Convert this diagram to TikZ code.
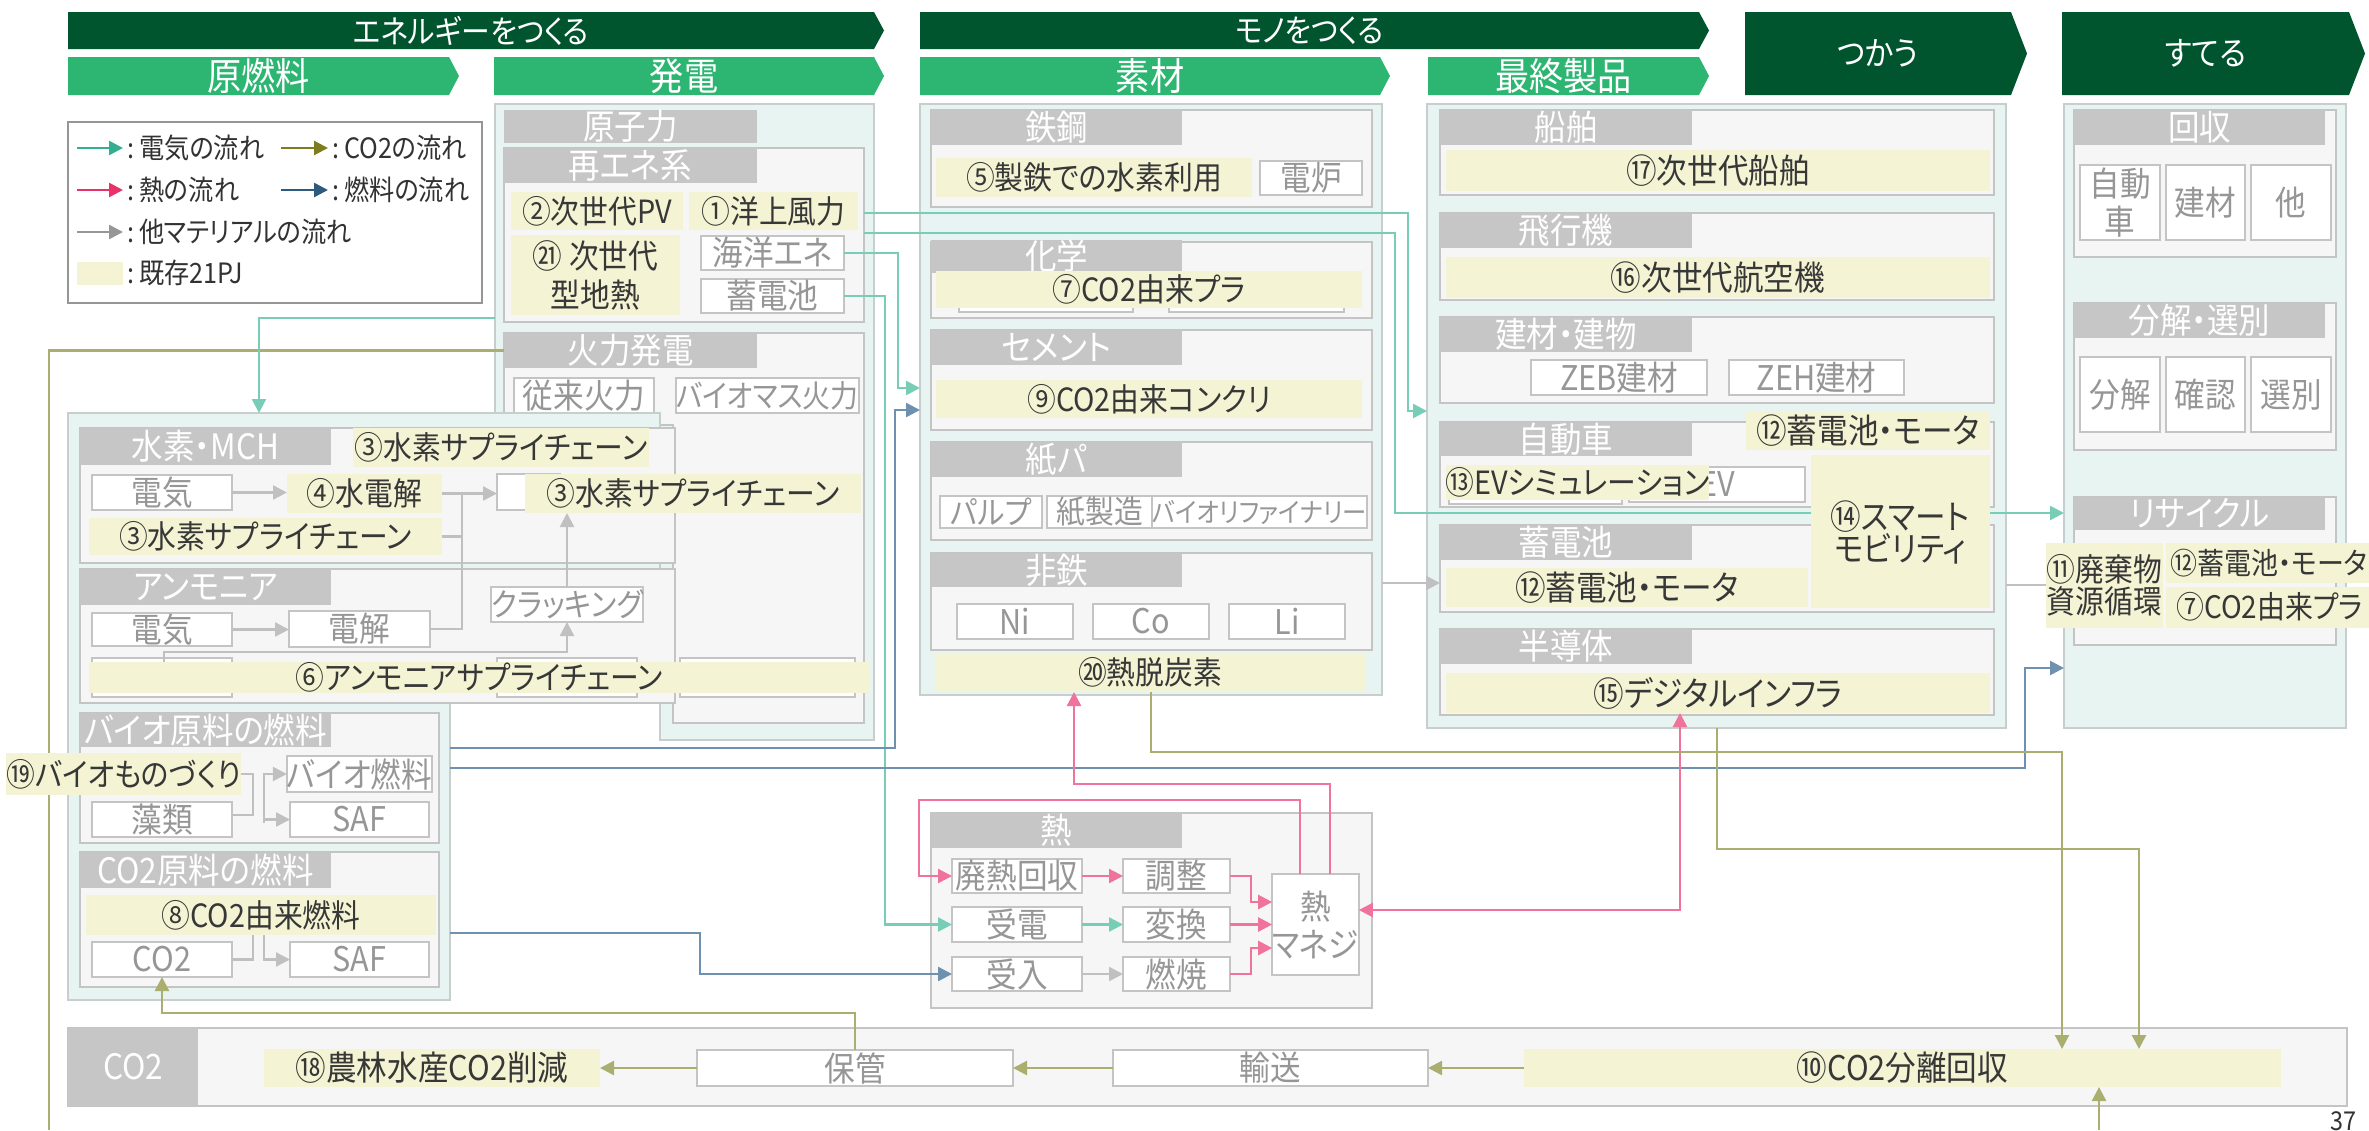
\documentclass[tikz,border=0pt]{standalone}
\usepackage{fontspec}
\setmainfont{Noto Sans CJK JP}[RawFeature=+palt,FakeStretch=0.9]
\usetikzlibrary{arrows.meta}
\newcommand\fsz[1]{\fontsize{#1}{#1}\selectfont}
\newcommand\bx[7]{\node[#6,minimum width={(#4-#2)*0.5pt},minimum height={(#5-#3)*0.5pt}] (#1) at ({(#2+#4)/2},{(#3+#5)/2}) {#7};}
\newcommand\chev[9]{\fill[#7] (#2,#3) -- ({#4-#6},#3) -- (#4,{(#3+#5)/2}) -- ({#4-#6},#5) -- (#2,#5) -- cycle;
 \node[text=white,font=\fsz{#8},inner sep=0pt] (#1) at ({(#2+#4-#6)/2},{(#3+#5)/2}) {#9};}
\definecolor{dkgreen}{RGB}{0,84,46}
\definecolor{mdgreen}{RGB}{44,182,114}
\definecolor{tealbg}{RGB}{232,244,241}
\definecolor{pborder}{RGB}{200,205,205}
\definecolor{subbg}{RGB}{246,246,246}
\definecolor{subbd}{RGB}{196,196,196}
\definecolor{hdrg}{RGB}{198,198,198}
\definecolor{yel}{RGB}{244,244,212}
\definecolor{wtxt}{RGB}{150,150,150}
\definecolor{ytxt}{RGB}{55,55,55}
\definecolor{cteal}{RGB}{120,205,182}
\definecolor{cpink}{RGB}{240,115,155}
\definecolor{cnavy}{RGB}{110,145,175}
\definecolor{colive}{RGB}{170,174,110}
\definecolor{cgrey}{RGB}{192,192,192}
\definecolor{lteal}{RGB}{50,175,145}
\definecolor{lpink}{RGB}{232,50,105}
\definecolor{lolive}{RGB}{125,125,30}
\definecolor{lnavy}{RGB}{45,90,125}
\definecolor{lgrey}{RGB}{150,150,150}
\definecolor{ltxt}{RGB}{50,50,50}
\begin{document}
\begin{tikzpicture}[x=0.5pt,y=-0.5pt,
 base/.style={inner sep=0pt,outer sep=0pt,align=center},
 panel/.style={base,fill=tealbg,draw=pborder,line width=1pt},
 panelp/.style={fill=tealbg,draw=pborder,line width=1pt},
 sub/.style={base,fill=subbg,draw=subbd,line width=1.2pt},
 subp/.style={fill=subbg,draw=subbd,line width=1.2pt},
 hdr/.style={base,fill=hdrg,text=white,font=\fsz{17.5}},
 wbox/.style={base,fill=white,draw=subbd,line width=1pt,text=wtxt,font=\fsz{17}},
 ybox/.style={base,fill=yel,text=ytxt,font=\fsz{16}},
 ltext/.style={anchor=west,inner sep=0pt,text=ltxt,font=\fsz{14}},
 arr/.style={-{Triangle[length=7pt,width=7pt]}},
 darr/.style={{Triangle[length=7pt,width=7pt]}-{Triangle[length=7pt,width=7pt]}},
 tl/.style={draw=cteal,line width=1.2pt},
 pl/.style={draw=cpink,line width=1.2pt},
 nl/.style={draw=cnavy,line width=1.2pt},
 ol/.style={draw=colive,line width=1.2pt},
 gl/.style={draw=cgrey,line width=1.2pt}]
\useasboundingbox (0,0) rectangle (2369,1130);
\fill[white] (0,0) rectangle (2369,1130);

% ---------- header bars
\chev{h1}{68}{12}{884}{49}{10}{dkgreen}{16}{エネルギーをつくる}
\chev{h2}{920}{12}{1709}{49}{10}{dkgreen}{16}{モノをつくる}
\chev{h3}{1745}{12}{2027}{95}{16}{dkgreen}{16.5}{つかう}
\chev{h4}{2062}{12}{2365}{95}{16}{dkgreen}{16.5}{すてる}
\chev{h5}{68}{57}{459}{95}{10}{mdgreen}{19}{原燃料}
\chev{h6}{494}{57}{884}{95}{10}{mdgreen}{19}{発電}
\chev{h7}{920}{57}{1390}{95}{10}{mdgreen}{19}{素材}
\chev{h8}{1428}{57}{1709}{95}{10}{mdgreen}{19}{最終製品}

% ---------- legend
\bx{leg}{68}{122}{482}{303}{base,fill=white,draw=lgrey,line width=1.2pt}{}
\coordinate (la1) at (77,148); \coordinate (lb1) at (123,148);
\coordinate (la2) at (77,190); \coordinate (lb2) at (123,190);
\coordinate (la3) at (77,232); \coordinate (lb3) at (123,232);
\coordinate (lc1) at (281,148); \coordinate (ld1) at (328,148);
\coordinate (lc2) at (281,190); \coordinate (ld2) at (328,190);
\draw[draw=lteal,line width=1.3pt,arr,color=lteal] (la1) -- (lb1);
\draw[draw=lpink,line width=1.3pt,arr,color=lpink] (la2) -- (lb2);
\draw[draw=lgrey,line width=1.3pt,arr,color=lgrey] (la3) -- (lb3);
\draw[draw=lolive,line width=1.3pt,arr,color=lolive] (lc1) -- (ld1);
\draw[draw=lnavy,line width=1.3pt,arr,color=lnavy] (lc2) -- (ld2);
\node[ltext] (lt1) at (127,148) {:\,電気の流れ};
\node[ltext] (lt2) at (127,190) {:\,熱の流れ};
\node[ltext] (lt3) at (127,232) {:\,他マテリアルの流れ};
\node[ltext] (lt4) at (332,148) {:\,CO2の流れ};
\node[ltext] (lt5) at (332,190) {:\,燃料の流れ};
\bx{lyel}{77}{262}{123}{285}{base,fill=yel}{}
\node[ltext] (lt6) at (127,273) {:\,既存21PJ};

% ---------- 発電
\draw[panelp] (495,104) -- (874,104) -- (874,740) -- (660,740) -- (660,413) -- (495,413) -- cycle;
\bx{nuc}{504}{110}{757}{143}{hdr}{原子力}
\bx{renew}{504}{148}{864}{322}{sub}{}
\bx{renewh}{504}{148}{757}{183}{hdr}{再エネ系}
\bx{pv}{511}{192}{683}{230}{ybox}{②次世代PV}
\bx{wind}{689}{192}{858}{230}{ybox}{①洋上風力}
\bx{geo}{511}{235}{680}{315}{ybox,font=\fontsize{16.5}{19.5}\selectfont}{㉑ 次世代\\型地熱}
\bx{ocean}{701}{236}{844}{270}{wbox}{海洋エネ}
\bx{batt}{701}{279}{844}{313}{wbox}{蓄電池}
\draw[subp] (504,333) -- (864,333) -- (864,723) -- (673,723) -- (673,425) -- (504,425) -- cycle;
\bx{fireh}{504}{333}{757}{368}{hdr}{火力発電}
\bx{conv}{514}{378}{654}{413}{wbox}{従来火力}
\bx{biom}{680}{378}{855}{413}{wbox,font=\fsz{15.5}}{バイオマス火力}
\draw[ol] (fireh.west) -| (49,1130);

% ---------- 原燃料
\draw[panelp] (68,413) -- (660,413) -- (660,703) -- (450,703) -- (450,1000) -- (68,1000) -- cycle;
\bx{h2p}{80}{428}{675}{563}{sub}{}
\bx{h2h}{80}{428}{331}{465}{hdr}{水素・MCH}
\bx{sc1}{353}{428}{649}{467}{ybox}{③水素サプライチェーン}
\bx{el1}{92}{475}{232}{510}{wbox}{電気}
\bx{we}{287}{474}{442}{513}{ybox}{④水電解}
\bx{h2w}{497}{474}{560}{510}{wbox}{}
\bx{sc2}{525}{474}{861}{513}{ybox}{③水素サプライチェーン}
\bx{sc3}{89}{518}{442}{555}{ybox}{③水素サプライチェーン}
\bx{nh3p}{80}{569}{675}{703}{sub}{}
\bx{nh3h}{80}{569}{331}{605}{hdr}{アンモニア}
\bx{el2}{92}{613}{232}{646}{wbox}{電気}
\bx{elz}{289}{611}{430}{647}{wbox}{電解}
\bx{crk}{497}{587}{637}{622}{wbox,font=\fsz{16}}{クラッキング}
\bx{hb1}{92}{658}{232}{697}{wbox}{}
\bx{hb2}{497}{658}{637}{697}{wbox}{}
\bx{hb3}{680}{658}{855}{697}{wbox}{}
\bx{nsc}{89}{662}{870}{693}{ybox}{⑥アンモニアサプライチェーン}
\draw[gl,arr] (el1.east) -- (el1.east -| we.west);
\draw[gl,arr] (we.east) -- (we.east -| h2w.west);
\draw[gl] (elz.east) -| (462,493);
\draw[gl] (sc3.east) -- (sc3.east -| 462,0);
\draw[gl,arr] (el2.east) -- (el2.east -| elz.west);
\draw[gl,arr] (crk.north) -- (crk.north |- sc2.south);
\draw[gl,arr] (nsc.north -| 164,0) -- (164,652) -| (crk.south);

\bx{biop}{80}{713}{439}{843}{sub}{}
\bx{bioh}{80}{713}{331}{747}{hdr}{バイオ原料の燃料}
\bx{biof}{290}{756}{429}{792}{wbox}{バイオ燃料}
\bx{algae}{92}{802}{232}{837}{wbox}{藻類}
\bx{saf1}{290}{802}{429}{837}{wbox}{SAF}
\bx{biomono}{9}{753}{238}{795}{ybox}{⑲バイオものづくり}
\draw[gl] (biomono.east) -| (253,815) -- (algae.east |- 0,815);
\draw[gl,arr] (264,823) |- (biof.west);
\draw[gl,arr] (264,774) |- (saf1.west);

\bx{co2p}{80}{852}{439}{987}{sub}{}
\bx{co2h}{80}{852}{331}{888}{hdr}{CO2原料の燃料}
\bx{co2f}{86}{895}{436}{935}{ybox}{⑧CO2由来燃料}
\bx{co2b}{92}{942}{232}{977}{wbox}{CO2}
\bx{saf2}{290}{942}{429}{977}{wbox}{SAF}
\draw[gl] (co2b.east) -| (co2f.south -| 253,0);
\draw[gl,arr] (co2f.south -| 264,0) |- (saf2.west);

% ---------- 素材
\bx{mat}{920}{104}{1382}{695}{panel}{}
\bx{steel}{931}{110}{1372}{207}{sub}{}
\bx{steelh}{931}{110}{1182}{145}{hdr}{鉄鋼}
\bx{h2steel}{936}{158}{1252}{197}{ybox}{⑤製鉄での水素利用}
\bx{eaf}{1260}{161}{1362}{195}{wbox}{電炉}
\bx{chem}{931}{242}{1372}{318}{sub}{}
\bx{chemh}{931}{242}{1182}{271}{hdr}{化学}
\bx{cb1}{959}{275}{1133}{312}{wbox}{}
\bx{cb2}{1169}{275}{1344}{312}{wbox}{}
\bx{co2pla}{936}{271}{1362}{308}{ybox}{⑦CO2由来プラ}
\bx{cem}{931}{330}{1372}{430}{sub}{}
\bx{cemh}{931}{330}{1182}{365}{hdr}{セメント}
\bx{conc}{936}{380}{1362}{418}{ybox}{⑨CO2由来コンクリ}
\bx{pap}{931}{442}{1372}{540}{sub}{}
\bx{paph}{931}{442}{1182}{477}{hdr}{紙パ}
\bx{pulp}{940}{496}{1042}{528}{wbox,font=\fsz{16}}{パルプ}
\bx{papm}{1047}{496}{1153}{528}{wbox,font=\fsz{16}}{紙製造}
\bx{bioref}{1157}{496}{1362}{528}{wbox,font=\fsz{13.5}}{バイオリファイナリー}
\bx{nonf}{931}{553}{1372}{650}{sub}{}
\bx{nonfh}{931}{553}{1182}{587}{hdr}{非鉄}
\bx{ni}{957}{604}{1073}{639}{wbox}{Ni}
\bx{co}{1093}{604}{1209}{639}{wbox}{Co}
\bx{li}{1229}{604}{1345}{639}{wbox}{Li}
\bx{heatdc}{935}{653}{1365}{692}{ybox}{⑳熱脱炭素}

% ---------- 最終製品
\bx{fin}{1427}{104}{2006}{728}{panel}{}
\bx{ship}{1440}{110}{1994}{195}{sub}{}
\bx{shiph}{1440}{110}{1692}{145}{hdr}{船舶}
\bx{ship17}{1446}{150}{1990}{191}{ybox,font=\fsz{17}}{⑰次世代船舶}
\bx{air}{1440}{213}{1994}{300}{sub}{}
\bx{airh}{1440}{213}{1692}{248}{hdr}{飛行機}
\bx{air16}{1446}{257}{1990}{298}{ybox,font=\fsz{17}}{⑯次世代航空機}
\bx{bld}{1440}{317}{1994}{403}{sub}{}
\bx{bldh}{1440}{317}{1692}{352}{hdr}{建材・建物}
\bx{zeb}{1531}{360}{1707}{395}{wbox}{ZEB建材}
\bx{zeh}{1729}{360}{1904}{395}{wbox}{ZEH建材}
\bx{car}{1440}{422}{1994}{507}{sub}{}
\bx{carh}{1440}{422}{1692}{456}{hdr}{自動車}
\bx{carw1}{1449}{467}{1622}{504}{wbox}{}
\bx{carw2}{1629}{467}{1805}{502}{wbox}{EV}
\bx{ev13}{1446}{465}{1709}{500}{ybox}{⑬EVシミュレーション}
\bx{bat12a}{1746}{412}{1990}{450}{ybox,font=\fsz{17}}{⑫蓄電池・モータ}
\bx{batp}{1440}{525}{1994}{612}{sub}{}
\bx{batph}{1440}{525}{1692}{560}{hdr}{蓄電池}
\bx{bat12}{1446}{568}{1808}{607}{ybox,font=\fsz{17}}{⑫蓄電池・モータ}
\bx{semi}{1440}{629}{1994}{715}{sub}{}
\bx{semih}{1440}{629}{1692}{664}{hdr}{半導体}
\bx{dig15}{1446}{673}{1990}{713}{ybox,font=\fsz{17}}{⑮デジタルインフラ}

% ---------- すてる
\bx{disp}{2064}{104}{2346}{728}{panel}{}
\bx{coll}{2074}{110}{2336}{257}{sub}{}
\bx{collh}{2074}{110}{2325}{145}{hdr}{回収}
\bx{rcar}{2080}{165}{2160}{240}{wbox,font=\fontsize{17}{19}\selectfont}{自動\\車}
\bx{rbld}{2166}{165}{2245}{240}{wbox}{建材}
\bx{roth}{2251}{165}{2331}{240}{wbox}{他}
\bx{dis}{2074}{303}{2336}{450}{sub}{}
\bx{dish}{2074}{303}{2325}{338}{hdr}{分解・選別}
\bx{d1}{2080}{357}{2160}{432}{wbox}{分解}
\bx{d2}{2166}{357}{2245}{432}{wbox}{確認}
\bx{d3}{2251}{357}{2331}{432}{wbox}{選別}
\bx{rec}{2074}{497}{2336}{645}{sub}{}
\bx{rech}{2074}{497}{2325}{530}{hdr}{リサイクル}
\bx{w11}{2046}{543}{2163}{628}{ybox,font=\fontsize{16}{16}\selectfont}{⑪廃棄物\\資源循環}
\bx{rb12}{2166}{543}{2380}{583}{ybox}{}
\bx{rp7}{2166}{587}{2380}{628}{ybox}{}
\node[anchor=west,inner sep=0pt,text=ytxt,font=\fsz{15}] (rb12t) at (2170,563) {⑫蓄電池・モータ};
\node[anchor=west,inner sep=0pt,text=ytxt,font=\fsz{15.5}] (rp7t) at (2176,607) {⑦CO2由来プラ};

% ---------- 熱
\bx{heat}{931}{813}{1372}{1008}{sub}{}
\bx{heath}{931}{813}{1182}{848}{hdr}{熱}
\bx{whr}{952}{859}{1082}{893}{wbox}{廃熱回収}
\bx{adj}{1123}{859}{1230}{893}{wbox}{調整}
\bx{rcv}{952}{907}{1082}{942}{wbox}{受電}
\bx{cnv}{1123}{907}{1230}{942}{wbox}{変換}
\bx{acc}{952}{957}{1082}{991}{wbox}{受入}
\bx{brn}{1123}{957}{1230}{991}{wbox}{燃焼}
\bx{hm}{1273}{874}{1358}{975}{wbox,font=\fontsize{17}{19}\selectfont}{熱\\マネジ}

% ---------- CO2 band
\bx{co2band}{68}{1028}{2347}{1106}{sub}{}
\bx{co2lab}{68}{1028}{198}{1106}{hdr}{CO2}
\bx{agri}{264}{1049}{600}{1087}{ybox,font=\fsz{17}}{⑱農林水産CO2削減}
\bx{store}{697}{1050}{1013}{1086}{wbox}{保管}
\bx{trans}{1113}{1050}{1428}{1086}{wbox}{輸送}
\bx{ccs}{1524}{1049}{2281}{1087}{ybox,font=\fsz{17}}{⑩CO2分離回収}

% ---------- connectors
\coordinate (genL) at (495,318);
\coordinate (fuelT) at (259,413);
\draw[tl,arr] (genL) -| (fuelT);
\draw[tl,arr] (renew.east |- 0,213) -| (1408,411) -- (fin.west |- 0,411);
\draw[tl,arr] (renew.east |- 0,233) -| (1395,513) -- (disp.west |- 0,513);
\draw[tl,arr] (ocean.east) -| (898,388) -- (mat.west |- 0,388);
\draw[tl,arr] (batt.east) -| (rcv.west -| 885,0) -- (rcv.west);
\coordinate (fuelR1) at (450,748);
\coordinate (fuelR2) at (450,768);
\coordinate (fuelR3) at (450,933);
\draw[nl,arr] (fuelR1) -| (895,410) -- (mat.west |- 0,410);
\draw[nl,arr] (fuelR2) -| (2025,668) -- (disp.west |- 0,668);
\draw[nl,arr] (fuelR3) -| (acc.west -| 700,0) -- (acc.west);
\draw[gl,arr] (mat.east |- 0,583) -- (batp.west |- 0,583);
\draw[gl] (fin.east |- 0,585) -- (w11.west |- 0,585);
% heat
\draw[pl,arr] (whr) -- (adj);
\draw[tl,arr] (rcv) -- (cnv);
\draw[gl,arr] (acc) -- (brn);
\draw[pl,arr] (adj.east) -| (1251,902) -- (hm.west |- 0,902);
\draw[pl,arr] (cnv.east) -- (cnv.east -| hm.west);
\draw[pl,arr] (brn.east) -| (1251,948) -- (hm.west |- 0,948);
\draw[pl,arr] (hm.north -| 1300,0) |- (919,800) |- (whr.west);
\draw[pl,arr] (hm.north -| 1330,0) |- (1074,784) -- (heatdc.south -| 1074,0);
\draw[pl,darr] (hm.east |- 0,910) -| (dig15.south -| 1680,0);
% CO2
\draw[ol,arr] (heatdc.south -| 1151,0) |- (2062,752) -- (ccs.north -| 2062,0);
\draw[ol,arr] (fin.south -| 1717,0) |- (2139,849) -- (ccs.north -| 2139,0);
\coordinate (bot) at (2099,1130);
\draw[ol,arr] (bot) -- (ccs.south -| bot);
\draw[ol,arr] (ccs.west) -- (trans.east);
\draw[ol,arr] (trans.west) -- (store.east);
\draw[ol,arr] (store.west) -- (agri.east);
\draw[ol,arr] (store.north) |- (co2b.south |- 0,1013) -- (co2b.south);

% ---------- smart mobility (on top)
\bx{smart}{1811}{455}{1990}{608}{ybox}{}
\node[base,text=ytxt,font=\fontsize{17}{16}\selectfont] (smartt) at (1900,532) {⑭スマート\\モビリティ};

\node[inner sep=0pt,text=ltxt,font=\fsz{13}] (pg) at (2343,1121) {37};
\end{tikzpicture}
\end{document}
